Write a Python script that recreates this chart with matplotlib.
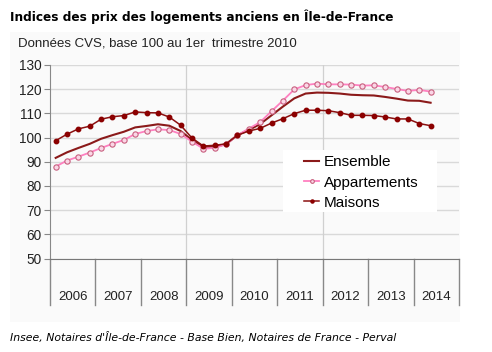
import numpy as np
import matplotlib
matplotlib.use("Agg")
import matplotlib.pyplot as plt
from matplotlib.patches import Rectangle
import matplotlib.transforms as mtransforms

# Data: quarterly index, 2006 Q1 .. 2014 Q2 (base 100 = 2010 Q1)
years = ['2006', '2007', '2008', '2009', '2010', '2011', '2012', '2013', '2014']
ensemble = [91.6, 93.9, 95.7, 97.4, 99.5, 101.0, 102.4, 104.2, 104.8, 105.5,
            104.9, 102.7, 99.0, 96.2, 96.2, 97.3, 101.0, 103.1, 105.6, 109.2,
            112.8, 116.2, 118.2, 118.6, 118.5, 118.2, 117.7, 117.5, 117.4, 116.8,
            116.1, 115.3, 115.2, 114.4]
appartements = [88.0, 90.5, 92.1, 93.8, 95.7, 97.4, 99.0, 101.5, 102.7, 103.4,
                103.1, 101.5, 98.3, 95.4, 95.7, 97.2, 101.0, 103.7, 106.4, 110.9,
                115.3, 119.9, 121.7, 122.3, 122.0, 122.0, 121.9, 121.5, 121.6, 120.9,
                120.1, 119.3, 119.7, 119.0]
maisons = [98.7, 101.4, 103.6, 104.7, 107.6, 108.6, 109.1, 110.6, 110.3, 110.2,
           108.5, 105.1, 99.8, 96.5, 96.8, 97.4, 101.0, 102.7, 103.8, 106.0,
           107.8, 109.9, 111.3, 111.3, 111.1, 110.3, 109.2, 109.2, 109.1, 108.5,
           107.7, 107.7, 105.8, 104.9]

W, H = 492, 352
fig = plt.figure(figsize=(W / 100, H / 100), dpi=100)
fig.patch.set_facecolor('white')

# light grey panel behind the chart
fig.add_artist(Rectangle((10 / W, 1 - 322 / H), 450 / W, 290 / H,
                         transform=fig.transFigure, facecolor='#fafafa',
                         edgecolor='none', zorder=0))

fig.text(10 / W, 1 - 17 / H, "Indices des prix des logements anciens en Île-de-France",
         fontsize=8.7, fontweight='bold', family='DejaVu Sans', va='center', ha='left')
fig.text(18 / W, 1 - 43 / H, "Données CVS, base 100 au 1er  trimestre 2010",
         fontsize=9.5, family='Liberation Sans', color='#222222', va='center', ha='left')
fig.text(10 / W, 1 - 337 / H,
         "Insee, Notaires d'Île-de-France - Base Bien, Notaires de France - Perval",
         fontsize=7.8, style='italic', family='DejaVu Sans', va='center', ha='left')

ax = fig.add_axes([50 / W, 1 - 258.5 / H, 409 / W, 193.5 / H])
ax.set_facecolor('none')

x = np.arange(len(ensemble)) + 0.5
ax.plot(x, ensemble, color='#8b1a1a', lw=1.5, label='Ensemble', zorder=3)
ax.plot(x, appartements, color='#ff80c0', lw=1.3, marker='o', ms=3.8,
        mfc='#fbd6e6', mec='#c8607f', mew=0.8, label='Appartements', zorder=3)
ax.plot(x, maisons, color='#8b1010', lw=1.1, marker='o', ms=3.2,
        mfc='#8b0000', mec='#8b0000', label='Maisons', zorder=4)

ax.set_xlim(0, 36)
ax.set_ylim(50, 130)
ax.set_yticks(range(50, 131, 10))
ax.yaxis.grid(True, color='#d9d9d9', lw=1)
ax.set_axisbelow(True)
for xv in (12, 24):
    ax.axvline(xv, color='#d0d0d0', lw=0.9, zorder=1)

for s in ('top', 'right'):
    ax.spines[s].set_visible(False)
ax.spines['left'].set_color('#888888')
ax.spines['bottom'].set_color('#777777')
ax.tick_params(axis='y', length=4, color='#888888', labelsize=9.8,
               labelcolor='#222222', pad=2)
for lab in ax.get_yticklabels():
    lab.set_family('Liberation Sans')

# year separators and labels below the plot
ax.set_xticks([])
trans = mtransforms.blended_transform_factory(ax.transData, ax.transAxes)
depth = 46 / 193.5
for k in range(len(years) + 1):
    ax.plot([4 * k, 4 * k], [0, -depth], transform=trans, color='#888888',
            lw=1, clip_on=False)
for k, yr in enumerate(years):
    ax.text(4 * k + 2, -38 / 193.5, yr, transform=trans, ha='center', va='center',
            fontsize=9.5, family='Liberation Sans', color='#222222')

# legend: white box behind, entries frameless
def ax_x(px):
    return (px - 50) / 409

def ax_y(py):
    return (258.5 - py) / 193.5

ax.add_patch(Rectangle((ax_x(283), ax_y(212)), ax_x(437) - ax_x(283), ax_y(150) - ax_y(212),
                       transform=ax.transAxes, facecolor='white', edgecolor='none', zorder=5))
leg = ax.legend(loc='center left', bbox_to_anchor=(ax_x(304), ax_y(182.5)),
                frameon=False, prop={'family': 'Liberation Sans', 'size': 11},
                handlelength=1.0, handletextpad=0.3, labelspacing=0.4,
                borderpad=0, borderaxespad=0, markerscale=0.7)
leg.set_zorder(6)

fig.savefig('out.png', dpi=100)
